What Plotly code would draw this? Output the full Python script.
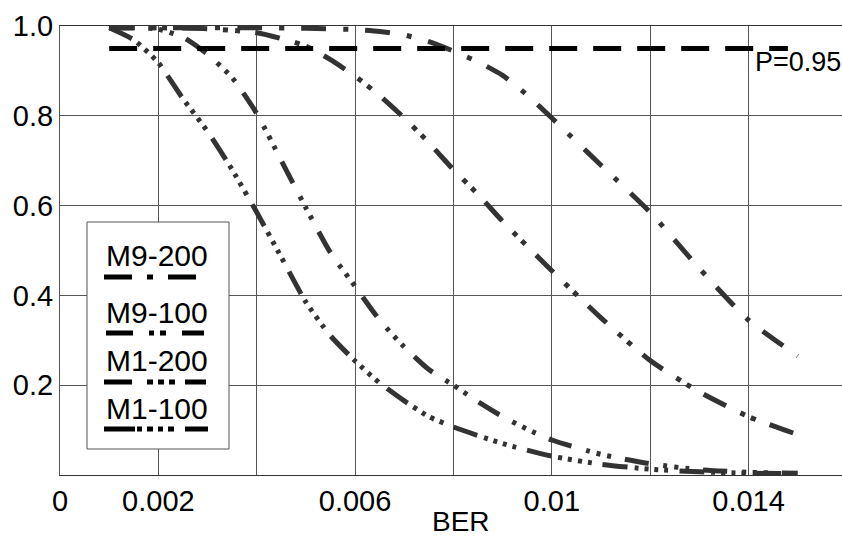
import plotly.graph_objects as go

# ---- data ----
ber_m1_100 = [0.001, 0.0015, 0.002, 0.0025, 0.003, 0.0035, 0.004, 0.0045, 0.005, 0.0055, 0.006, 0.0065,
              0.007, 0.0075, 0.008, 0.009, 0.010, 0.011, 0.012, 0.013, 0.014, 0.015]
p_m1_100 = [0.996, 0.969, 0.918, 0.838, 0.765, 0.68, 0.585, 0.485, 0.385, 0.31, 0.254, 0.205,
            0.165, 0.13, 0.107, 0.07, 0.042, 0.024, 0.013, 0.007, 0.004, 0.003]

ber_m1_200 = [0.001, 0.0015, 0.002, 0.0025, 0.003, 0.0035, 0.004, 0.0045, 0.005, 0.0055, 0.006, 0.0065,
              0.007, 0.0075, 0.008, 0.0085, 0.009, 0.0095, 0.010, 0.011, 0.012, 0.013, 0.014, 0.015]
p_m1_200 = [0.996, 0.996, 0.993, 0.975, 0.937, 0.885, 0.805, 0.70, 0.595, 0.495, 0.42, 0.345,
            0.285, 0.235, 0.2, 0.163, 0.13, 0.102, 0.078, 0.046, 0.025, 0.012, 0.006, 0.004]

ber_m9_100 = [0.001, 0.002, 0.003, 0.004, 0.0045, 0.005, 0.0055, 0.006, 0.0065, 0.007, 0.0075, 0.008,
              0.0085, 0.009, 0.010, 0.011, 0.012, 0.013, 0.014, 0.015]
p_m9_100 = [0.996, 0.996, 0.994, 0.985, 0.972, 0.955, 0.925, 0.888, 0.845, 0.795, 0.74, 0.68,
            0.625, 0.565, 0.455, 0.35, 0.255, 0.185, 0.13, 0.09]

ber_m9_200 = [0.001, 0.002, 0.003, 0.004, 0.005, 0.006, 0.0065, 0.007, 0.0075, 0.008, 0.0085, 0.009,
              0.0095, 0.010, 0.011, 0.012, 0.013, 0.014, 0.015]
p_m9_200 = [0.996, 0.996, 0.996, 0.996, 0.995, 0.992, 0.988, 0.98, 0.965, 0.944, 0.92, 0.89,
            0.846, 0.795, 0.69, 0.585, 0.46, 0.345, 0.265]

ber_thresh = [0.001, 0.0148]
p_thresh = [0.95, 0.95]
thresh_label = "P=0.95"

x_tickvals = [0, 0.002, 0.004, 0.006, 0.008, 0.010, 0.012, 0.014]
x_ticktext = ["0", "0.002", "", "0.006", "", "0.01", "", "0.014"]
y_tickvals = [0.2, 0.4, 0.6, 0.8, 1.0]
y_ticktext = ["0.2", "0.4", "0.6", "0.8", "1.0"]

series_names = ["M9-200", "M9-100", "M1-200", "M1-100"]

# ---- styling ----
W, H = 842, 539
ML, MR, MT, MB = 60, 0, 26, 64
PW, PH = W - ML - MR, H - MT - MB
curve_color = "#333333"
font_family = "Arial, Liberation Sans, sans-serif"


def px_x(p):
    return (p - ML) / PW


def px_y(p):
    return (H - MB - p) / PH


fig = go.Figure()

curve_specs = [
    (ber_m9_200, p_m9_200, "25px,17px,5px,17px", series_names[0]),
    (ber_m9_100, p_m9_100, "25px,16px,5px,7px,5px,15px", series_names[1]),
    (ber_m1_200, p_m1_200, "24px,15px,4px,7px,4px,7px,4px,14px", series_names[2]),
    (ber_m1_100, p_m1_100, "25px,7px,4px,6px,4px,6px,4px,6px,4px,11px", series_names[3]),
]
for xs, ys, dash, name in curve_specs:
    fig.add_trace(go.Scatter(x=xs, y=ys, mode="lines", name=name,
                             line=dict(color=curve_color, width=5, dash=dash,
                                       shape="spline", smoothing=0.6),
                             showlegend=False, hoverinfo="skip"))

fig.add_trace(go.Scatter(x=ber_thresh, y=p_thresh, mode="lines", name=thresh_label,
                         line=dict(color="black", width=5, dash="28px,16px"),
                         showlegend=False, hoverinfo="skip"))

fig.add_annotation(x=0.0141, y=0.92, xref="x", yref="y", text=thresh_label,
                   showarrow=False, xanchor="left", yanchor="middle",
                   font=dict(size=27, color="black", family=font_family))

fig.add_annotation(x=px_x(461), y=px_y(539), xref="paper", yref="paper", text="BER",
                   showarrow=False, xanchor="center", yanchor="bottom",
                   font=dict(size=28, color="black", family=font_family))

# ---- custom legend ----
shapes = [dict(type="rect", xref="paper", yref="paper",
               x0=px_x(87), x1=px_x(229), y0=px_y(449), y1=px_y(222),
               line=dict(color="#555555", width=1), fillcolor="white", layer="above")]
legend_items = [
    (series_names[0], 255, 277, 104, 196, "28px,15px,6px,15px,28px,200px"),
    (series_names[1], 312, 333, 106, 204, "27px,16px,5px,6px,6px,16px,22px,200px"),
    (series_names[2], 360, 382, 104, 206, "28px,15px,6px,5px,6px,5px,6px,10px,21px,200px"),
    (series_names[3], 408, 429, 104, 208, "31px,2px,5px,5px,6px,5px,5px,5px,6px,11px,23px,200px"),
]
for name, ty, ly, lx0, lx1, dash in legend_items:
    fig.add_annotation(x=px_x(157), y=px_y(ty), xref="paper", yref="paper", text=name,
                       showarrow=False, xanchor="center", yanchor="middle",
                       font=dict(size=30, color="black", family=font_family))
    shapes.append(dict(type="line", xref="paper", yref="paper",
                       x0=px_x(lx0), x1=px_x(lx1), y0=px_y(ly), y1=px_y(ly),
                       line=dict(color="black", width=5, dash=dash), layer="above"))

fig.update_layout(
    width=W, height=H,
    margin=dict(l=ML, r=MR, t=MT, b=MB, pad=0),
    paper_bgcolor="white", plot_bgcolor="white",
    font=dict(family=font_family, size=29, color="black"),
    shapes=shapes,
    hovermode=False,
    xaxis=dict(range=[0, 0.0159], tickvals=x_tickvals, ticktext=x_ticktext,
               showgrid=True, gridcolor="#555555", gridwidth=1,
               showline=True, linecolor="#333333", linewidth=1, mirror=True,
               zeroline=False, ticks="", tickfont=dict(size=29)),
    yaxis=dict(range=[0, 1.0], tickvals=y_tickvals, ticktext=y_ticktext,
               showgrid=True, gridcolor="#555555", gridwidth=1,
               showline=True, linecolor="#555555", linewidth=1,
               zeroline=False, ticks="", tickfont=dict(size=29)),
)

fig.write_html("out.html", config={"displayModeBar": False},
               post_script="document.body.style.margin='0';document.body.style.overflow='hidden';")
